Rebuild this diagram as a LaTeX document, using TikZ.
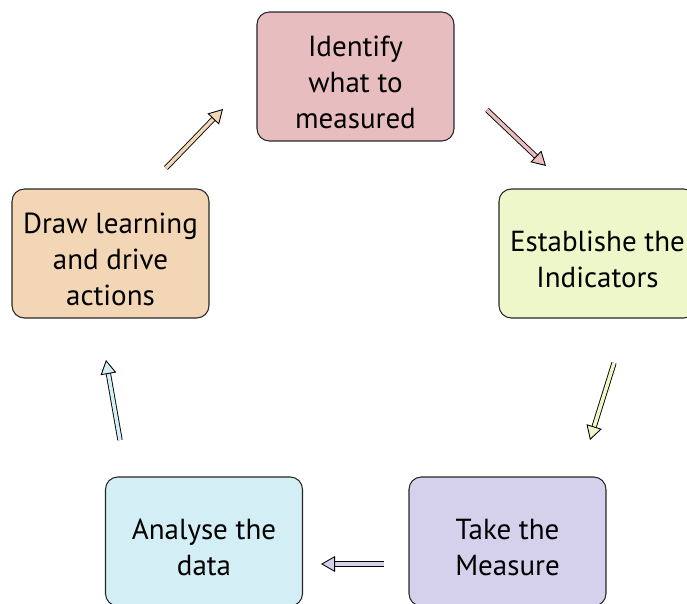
\documentclass[tikz,border=0pt]{standalone}
\usepackage{fontspec}
\setmainfont{PT Sans}
\usetikzlibrary{arrows.meta}
\definecolor{pinkd}{RGB}{232,189,192}
\definecolor{greend}{RGB}{238,247,201}
\definecolor{lilacd}{RGB}{213,208,235}
\definecolor{blued}{RGB}{212,238,245}
\definecolor{peachd}{RGB}{242,214,181}
\begin{document}
\begin{tikzpicture}[x=0.02cm, y=-0.02cm,
        stage/.style={draw=black!85, line width=0.6pt, rounded corners=7pt,
            minimum width=3.94cm, minimum height=2.58cm, inner sep=0pt},
        words/.style={align=center, yshift=-3.5pt, font=\fontsize{16.5}{20.5}\selectfont},
        flow/.style={draw=black, line width=0.5pt, double=#1, double distance=2pt,
            -{Triangle[length=8pt, width=9pt, fill=#1]}}]
    \useasboundingbox (0,0) rectangle (687,604);
    \clip (0,0) rectangle (687,604);
    \node[stage, fill=pinkd, label={[words]center:{Identify\\what to\\measured}}] (identify) at (355.5,76.5) {};
    \node[stage, fill=greend, label={[words]center:{Establishe the\\Indicators}}] (indicators) at (597.5,253.5) {};
    \node[stage, fill=lilacd, label={[words]center:{Take the\\Measure}}] (take) at (507.5,541.5) {};
    \node[stage, fill=blued, label={[words]center:{Analyse the\\data}}] (analyse) at (204,541.5) {};
    \node[stage, fill=peachd, label={[words]center:{Draw learning\\and drive\\actions}}] (learn) at (110.5,253.5) {};
    \coordinate (s1) at (487,110); \coordinate (e1) at (546,166);
    \coordinate (s2) at (614,363); \coordinate (e2) at (590,440);
    \coordinate (s3) at (384,564); \coordinate (e3) at (321,564);
    \coordinate (s4) at (120,440); \coordinate (e4) at (106,360);
    \coordinate (s5) at (166,168); \coordinate (e5) at (223,109);
    \draw[flow=pinkd] (s1) -- (e1);
    \draw[flow=greend] (s2) -- (e2);
    \draw[flow=lilacd] (s3) -- (e3);
    \draw[flow=blued] (s4) -- (e4);
    \draw[flow=peachd] (s5) -- (e5);
\end{tikzpicture}
\end{document}
